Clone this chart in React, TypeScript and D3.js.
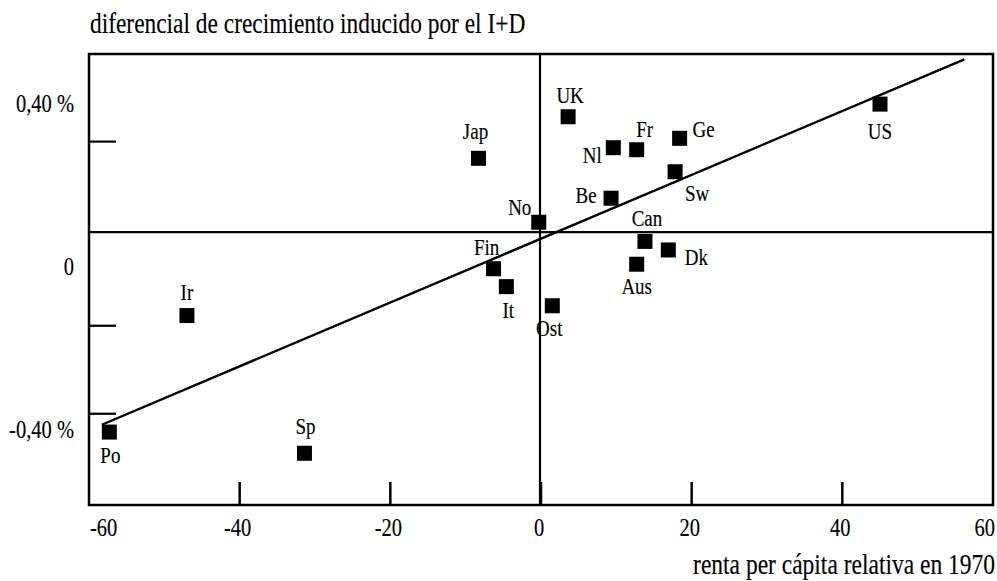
import React from "react";
import * as d3 from "d3";

const width = 997;
const height = 581;
const margin = { top: 54, right: 4, bottom: 76, left: 89 };

// countries: renta per cápita relativa en 1970 (x), diferencial de crecimiento (y, %)
const countries = ["Jap", "UK", "Nl", "Fr", "Ge", "Sw", "Be", "No", "Can", "Dk", "Fin", "Aus", "It", "Ost", "US", "Ir", "Po", "Sp"];
const renta = [-8.3, 3.6, 9.6, 12.7, 18.4, 17.8, 9.3, -0.3, 13.8, 16.9, -6.3, 12.7, -4.6, 1.5, 45.0, -47.0, -57.3, -31.4];
const diferencial = [0.269, 0.371, 0.295, 0.29, 0.318, 0.236, 0.171, 0.112, 0.065, 0.044, -0.002, 0.009, -0.046, -0.093, 0.402, -0.117, -0.403, -0.455];

// fitted line endpoints
const fitX = [-58.3, 56.2];
const fitY = [-0.385, 0.512];

const xTicks = [-60, -40, -20, 0, 20, 40, 60];
const yTickValues = [0.4, 0, -0.4];
const yTickLabels = ["0,40 %", "0", "-0,40 %"];
const yMarks = [0.31, -0.142, -0.358]; // short marks on the left axis
const refY = 0.088; // horizontal reference line

const title = "diferencial de crecimiento inducido por el I+D";
const xTitle = "renta per cápita relativa en 1970";

// label placement relative to each square (dx, dy to baseline)
const labelOffset: Record<string, [number, number]> = {
  Jap: [-3, -19], UK: [2, -14], Nl: [-21, 15], Fr: [8, -13], Ge: [24, -1],
  Sw: [22, 29], Be: [-25, 5], No: [-19, -7], Can: [2, -15], Dk: [28, 15],
  Fin: [-7, -14], Aus: [0, 30], It: [2, 31], Ost: [-3, 30], US: [0, 35],
  Ir: [0, -16], Po: [1, 31], Sp: [1, -19],
};

const font = "Liberation Serif";
const stretch = 1.23;

function T({ x, y, size, anchor = "middle", children }: any) {
  return (
    <text
      transform={`translate(${x},${y}) scale(1,${stretch})`}
      style={{ fontFamily: font, fontSize: size }}
      textAnchor={anchor}
      fill="#000"
      stroke="#000"
      strokeWidth={0.12}
    >
      {children}
    </text>
  );
}

export default function App() {
  const x = d3.scaleLinear().domain([-60, 60]).range([margin.left, width - margin.right]);
  const y = d3.scaleLinear().domain([-0.582, 0.525]).range([height - margin.bottom, margin.top]);
  const top = margin.top;
  const bottom = height - margin.bottom;
  const left = x(-60);
  const right = x(60);

  const line = d3.line<number>().x((d, i) => x(fitX[i])).y((d, i) => y(fitY[i]));
  const sq = 15;

  return (
    <svg width={width} height={height} style={{ position: "absolute", left: 0, top: 0, background: "#fff" }}>
      <T x={90} y={33} size={23.4} anchor="start">{title}</T>

      {/* frame */}
      <rect x={left} y={top} width={right - left} height={bottom - top} fill="none" stroke="#000" strokeWidth={2.5} />

      {/* reference lines */}
      <line x1={x(0) - 1} x2={x(0) - 1} y1={top} y2={bottom} stroke="#000" strokeWidth={2.2} />
      <line x1={left} x2={right} y1={y(refY)} y2={y(refY)} stroke="#000" strokeWidth={2.2} />

      {/* x ticks */}
      {xTicks.slice(1, -1).map((t) => (
        <line key={t} x1={x(t)} x2={x(t)} y1={bottom} y2={bottom - 23} stroke="#000" strokeWidth={2.5} />
      ))}
      {xTicks.map((t, i) => (
        <T
          key={t}
          x={i === 0 ? x(t) + 1 : i === xTicks.length - 1 ? x(t) + 2 : x(t) - 2}
          y={536}
          size={20.5}
          anchor={i === 0 ? "start" : i === xTicks.length - 1 ? "end" : "middle"}
        >
          {t}
        </T>
      ))}
      <T x={995} y={574} size={23.5} anchor="end">{xTitle}</T>

      {/* y marks and labels */}
      {yMarks.map((m) => (
        <line key={m} x1={left} x2={left + 27} y1={y(m)} y2={y(m)} stroke="#000" strokeWidth={2.2} />
      ))}
      {yTickValues.map((v, i) => (
        <T key={v} x={74} y={y(v) + 7} size={20.5} anchor="end">{yTickLabels[i]}</T>
      ))}

      {/* fitted line */}
      <path d={line(fitX) || ""} fill="none" stroke="#000" strokeWidth={2.4} />

      {/* points */}
      {countries.map((c, i) => (
        <rect key={c} x={x(renta[i]) - sq / 2} y={y(diferencial[i]) - sq / 2} width={sq} height={sq} fill="#000" />
      ))}
      {countries.map((c, i) => (
        <T key={c} x={x(renta[i]) + labelOffset[c][0]} y={y(diferencial[i]) + labelOffset[c][1]} size={19}>
          {c}
        </T>
      ))}
    </svg>
  );
}
